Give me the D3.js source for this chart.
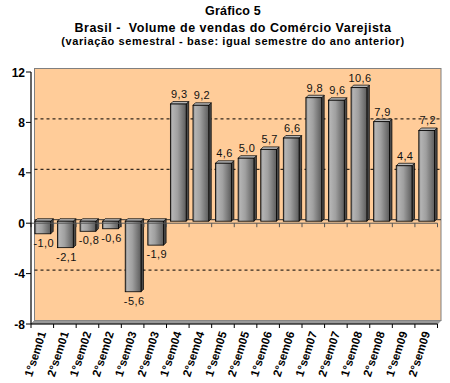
<!DOCTYPE html>
<html>
<head>
<meta charset="utf-8">
<script src="https://cdn.jsdelivr.net/npm/d3@7"></script>
<style>
  body { margin: 0; background: #fff; }
  svg { display: block; font-family: Arial, "Liberation Sans", sans-serif; }
  .title { white-space: pre; }
</style>
</head>
<body>
<svg id="chart" width="450" height="383"></svg>
<script>
// semesters and retail volume change (%)
const categories = ["1°sem01", "2°sem01", "1°sem02", "2°sem02", "1°sem03", "2°sem03",
    "1°sem04", "2°sem04", "1°sem05", "2°sem05", "1°sem06", "2°sem06",
    "1°sem07", "2°sem07", "1°sem08", "2°sem08", "1°sem09", "2°sem09"];
const values = [-1.0, -2.1, -0.8, -0.6, -5.6, -1.9,
    9.3, 9.2, 4.6, 5.0, 5.7, 6.6,
    9.8, 9.6, 10.6, 7.9, 4.4, 7.2];
const yTicks = [12, 8, 4, 0, -4, -8];
const gridValues = [8, 4, -4];
const titleLines = ["Gráfico 5",
    "Brasil -  Volume de vendas do Comércio Varejista",
    "(variação semestral - base: igual semestre do ano anterior)"];

const svg = d3.select("#chart");
const pLeft = 31, pRight = 437.5, pTop = 72, pBottom = 324;
const dx = 3.5, dy = -3.5;      // depth of the back wall
const bdx = 2.5, bdy = -2.5;    // depth of each bar

const x = d3.scaleBand().domain(categories).range([pLeft, pRight])
    .paddingInner(0.3).paddingOuter(0.15);
const y = d3.scaleLinear().domain([-8, 12]).range([pBottom, pTop]);
// excel style: comma decimal, plain hyphen
const fmt = v => d3.format(".1f")(v).replace(".", ",").replace("−", "-");

// gradient for the bar fronts
const defs = svg.append("defs");
const grad = defs.append("linearGradient").attr("id", "barGrad")
    .attr("x1", "0%").attr("x2", "100%").attr("y1", "0%").attr("y2", "0%");
[["0%", "#6a6a6a"], ["12%", "#b4b4b4"], ["45%", "#a0a0a0"], ["100%", "#5c5c5c"]]
    .forEach(s => grad.append("stop").attr("offset", s[0]).attr("stop-color", s[1]));

// back wall
svg.append("rect")
    .attr("x", pLeft + dx).attr("y", pTop + dy)
    .attr("width", pRight - pLeft).attr("height", pBottom - pTop)
    .attr("fill", "#FFCC99").attr("stroke", "#808080").attr("stroke-width", 1);

// floor strip
svg.append("path")
    .attr("d", `M${pLeft},${pBottom} L${pRight},${pBottom} L${pRight + dx},${pBottom + dy} L${pLeft + dx},${pBottom + dy} Z`)
    .attr("fill", "#999").attr("stroke", "#808080").attr("stroke-width", 0.6);

// dashed gridlines on the wall
svg.selectAll(".grid").data(gridValues).enter().append("line")
    .attr("class", "grid")
    .attr("x1", pLeft + dx).attr("x2", pRight + dx)
    .attr("y1", d => y(d) + dy).attr("y2", d => y(d) + dy)
    .attr("stroke", "#000").attr("stroke-width", 1).attr("stroke-dasharray", "3,3");

// zero line on wall
svg.append("line")
    .attr("x1", pLeft + dx).attr("x2", pRight + dx)
    .attr("y1", y(0) + dy).attr("y2", y(0) + dy)
    .attr("stroke", "#333").attr("stroke-width", 1);

// bars
const bars = svg.selectAll(".bar").data(values).enter().append("g").attr("class", "bar");
const bw = x.bandwidth();
bars.each(function (v, i) {
    const g = d3.select(this);
    const x0 = x(categories[i]) + 0.5;
    const y0 = y(0) - 2, y1 = y(v) - 2;
    const yt = Math.min(y0, y1), yb = Math.max(y0, y1);
    // side
    g.append("path")
        .attr("d", `M${x0 + bw},${yt} L${x0 + bw + bdx},${yt + bdy} L${x0 + bw + bdx},${yb + bdy} L${x0 + bw},${yb} Z`)
        .attr("fill", "#4a4a4a").attr("stroke", "#000").attr("stroke-width", 0.7);
    // top
    g.append("path")
        .attr("d", `M${x0},${yt} L${x0 + bdx},${yt + bdy} L${x0 + bw + bdx},${yt + bdy} L${x0 + bw},${yt} Z`)
        .attr("fill", "#b8b8b8").attr("stroke", "#000").attr("stroke-width", 0.7);
    // front
    g.append("rect")
        .attr("x", x0).attr("y", yt).attr("width", bw).attr("height", yb - yt)
        .attr("fill", "url(#barGrad)").attr("stroke", "#000").attr("stroke-width", 0.8);
    // value label
    g.append("text")
        .attr("x", x0 + bw / 2 + 1)
        .attr("y", v >= 0 ? yt - 6 : yb + 13)
        .attr("text-anchor", "middle")
        .attr("font-size", "11px")
        .attr("letter-spacing", "0.4px")
        .attr("fill", "#111")
        .text(fmt(v));
});

// x axis at zero
const step = x.step();
const bounds = d3.range(categories.length + 1).map(i => pLeft + i * step);
svg.append("line")
    .attr("x1", pLeft).attr("x2", pRight).attr("y1", y(0)).attr("y2", y(0))
    .attr("stroke", "#555").attr("stroke-width", 1);
svg.selectAll(".ztick").data(bounds).enter().append("line")
    .attr("class", "ztick")
    .attr("x1", d => d).attr("x2", d => d)
    .attr("y1", y(0)).attr("y2", y(0) + 4)
    .attr("stroke", "#555").attr("stroke-width", 1);

// bottom axis
svg.append("line")
    .attr("x1", pLeft).attr("x2", pRight).attr("y1", pBottom).attr("y2", pBottom)
    .attr("stroke", "#000").attr("stroke-width", 1.2);
svg.selectAll(".btick").data(bounds).enter().append("line")
    .attr("class", "btick")
    .attr("x1", d => d).attr("x2", d => d)
    .attr("y1", pBottom).attr("y2", pBottom + 4)
    .attr("stroke", "#000").attr("stroke-width", 1);
svg.selectAll(".xlab").data(categories).enter().append("text")
    .attr("class", "xlab")
    .attr("transform", d => `translate(${x(d) + bw / 2 + 4},${pBottom + 9}) rotate(-72)`)
    .attr("text-anchor", "end")
    .attr("font-size", "11.5px")
    .attr("font-weight", "bold")
    .text(d => d);

// y axis
svg.append("line")
    .attr("x1", pLeft).attr("x2", pLeft).attr("y1", pTop).attr("y2", pBottom)
    .attr("stroke", "#000").attr("stroke-width", 1.2);
svg.selectAll(".ytick").data(yTicks).enter().append("line")
    .attr("class", "ytick")
    .attr("x1", pLeft - 5).attr("x2", pLeft)
    .attr("y1", d => y(d)).attr("y2", d => y(d))
    .attr("stroke", "#000").attr("stroke-width", 1);
svg.selectAll(".ylab").data(yTicks).enter().append("text")
    .attr("class", "ylab")
    .attr("x", pLeft - 6).attr("y", d => y(d) + 4.5)
    .attr("text-anchor", "end")
    .attr("font-size", "12px")
    .attr("font-weight", "bold")
    .text(d => d);

// titles
const titleY = [15, 32, 45];
const titleSize = ["12.5px", "12.5px", "11px"];
const titleSpacing = ["0.2px", "0.5px", "0.6px"];
svg.selectAll(".title").data(titleLines).enter().append("text")
    .attr("class", "title")
    .attr("x", 233).attr("y", (d, i) => titleY[i])
    .attr("text-anchor", "middle")
    .attr("font-size", (d, i) => titleSize[i])
    .attr("letter-spacing", (d, i) => titleSpacing[i])
    .attr("font-weight", "bold")
    .text(d => d);
</script>
</body>
</html>
